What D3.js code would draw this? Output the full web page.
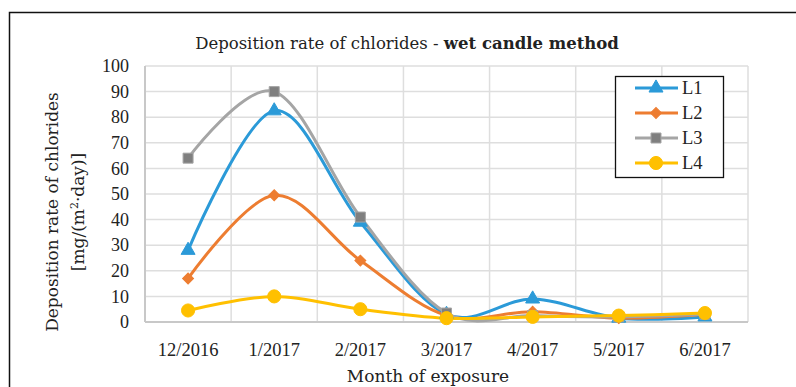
<!DOCTYPE html>
<html><head><meta charset="utf-8">
<script src="https://cdn.jsdelivr.net/npm/d3@7"></script>
<style>body{margin:0;background:#fff}svg{display:block}text{fill:#222}</style>
</head><body><svg width="796" height="387"></svg>
<script>
const categories = ["12/2016","1/2017","2/2017","3/2017","4/2017","5/2017","6/2017"];
const seriesNames = ["L1","L2","L3","L4"];
const L1 = [28, 82.5, 39, 3, 9, 1.5, 2];
const L2 = [17, 49.5, 24, 2.5, 4, 1.5, 3];
const L3 = [64, 90, 41, 3.5, 2.5, 2, 3];
const L4 = [4.5, 10, 5, 1.5, 2, 2.5, 3.5];
const yTicks = [0,10,20,30,40,50,60,70,80,90,100];
const colors = ["#2b9ad8","#ed7d31","#a5a5a5","#ffc000"];
const markerFill = ["#2b9ad8","#ed7d31","#7f7f7f","#ffc000"];
const shapes = [d3.symbolTriangle, d3.symbolSquare, d3.symbolSquare, d3.symbolCircle];
const rot = [0, 45, 0, 0];
const sizes = [85, 60, 100, 135];
const data = [L1, L2, L3, L4];
const NUM = "'Liberation Serif', serif";
const WORD = "'DejaVu Serif', serif";

const svg = d3.select("svg");
svg.append("path").attr("d","M9.5,400 L9.5,12.5 L800,12.5").attr("fill","none").attr("stroke","#111").attr("stroke-width",1.5);

const x0 = 145, x1 = 748, yTop = 66, yBot = 322;
const x = d3.scaleBand().domain(categories).range([x0, x1]);
const y = d3.scaleLinear().domain([0,100]).range([yBot, yTop]);

const g = svg.append("g");
g.selectAll("line.h").data(yTicks).join("line")
  .attr("x1",x0).attr("x2",x1).attr("y1",d=>y(d)).attr("y2",d=>y(d))
  .attr("stroke","#dedede").attr("stroke-width",1.5);
const bounds = categories.map(c=>x(c)).concat([x1]);
g.selectAll("line.v").data(bounds).join("line")
  .attr("x1",d=>d).attr("x2",d=>d).attr("y1",yTop).attr("y2",yBot)
  .attr("stroke","#dedede").attr("stroke-width",1.5);
svg.append("line").attr("x1",x0).attr("x2",x1).attr("y1",yBot).attr("y2",yBot).attr("stroke","#c8c8c8").attr("stroke-width",2);
svg.append("line").attr("x1",x0).attr("x2",x0).attr("y1",yTop).attr("y2",yBot).attr("stroke","#c8c8c8").attr("stroke-width",2);

const yAxis = d3.axisLeft(y).tickValues(yTicks).tickSize(0).tickPadding(0);
const ya = svg.append("g").attr("transform",`translate(${x0-16},0)`).call(yAxis)
  .attr("font-family",NUM).attr("font-size",18);
ya.select(".domain").remove();
ya.selectAll("text").attr("fill","#222");

const xAxis = d3.axisBottom(x).tickSize(0).tickPadding(0);
const xa = svg.append("g").attr("transform",`translate(0,${yBot+21})`).call(xAxis)
  .attr("font-family",NUM).attr("font-size",18.5);
xa.select(".domain").remove();
xa.selectAll("text").attr("fill","#222");

const line = d3.line().x((d,i)=>x(categories[i])+x.bandwidth()/2).y(d=>y(d)).curve(d3.curveCatmullRom.alpha(0));
data.forEach((s,k)=>{
  svg.append("path").datum(s).attr("d",line).attr("fill","none").attr("stroke",colors[k]).attr("stroke-width",3);
});
data.forEach((s,k)=>{
  svg.selectAll(null).data(s).join("path")
    .attr("transform",(d,i)=>`translate(${x(categories[i])+x.bandwidth()/2},${y(d)}) rotate(${rot[k]})`)
    .attr("d",d3.symbol().type(shapes[k]).size(sizes[k]))
    .attr("fill",markerFill[k]).attr("stroke",colors[k]).attr("stroke-width",1);
});

const t = svg.append("text").attr("x",407).attr("y",49).attr("text-anchor","middle")
  .attr("font-family",WORD).attr("font-size",16.5);
t.append("tspan").text("Deposition rate of chlorides - ");
t.append("tspan").attr("font-weight","bold").text("wet candle method");

svg.append("text").attr("x",428).attr("y",382).attr("text-anchor","middle")
  .attr("font-family",WORD).attr("font-size",17).text("Month of exposure");

const yt = svg.append("text").attr("transform","translate(58,212) rotate(-90)").attr("text-anchor","middle")
  .attr("font-family",WORD).attr("font-size",17);
yt.append("tspan").attr("x",0).attr("dy",0).text("Deposition rate of chlorides");
const t2 = yt.append("tspan").attr("x",0).attr("dy",26).text("[mg/(m");
t2.append("tspan").attr("dy",-6).attr("font-size",11).text("2");
yt.append("tspan").attr("dy",6).text("·day)]");

const lg = svg.append("g");
lg.append("rect").attr("x",615.5).attr("y",76.5).attr("width",108).attr("height",101).attr("fill","#fff").attr("stroke","#111").attr("stroke-width",1.3);
seriesNames.forEach((n,k)=>{
  const yy = 88 + k*25;
  lg.append("line").attr("x1",635).attr("x2",678).attr("y1",yy).attr("y2",yy).attr("stroke",colors[k]).attr("stroke-width",3);
  lg.append("path").attr("transform",`translate(656,${yy}) rotate(${rot[k]})`).attr("d",d3.symbol().type(shapes[k]).size(sizes[k]))
    .attr("fill",markerFill[k]).attr("stroke",colors[k]).attr("stroke-width",1);
  lg.append("text").attr("x",682).attr("y",yy+6).attr("font-family",NUM).attr("font-size",18.5).text(n);
});
</script></body></html>
